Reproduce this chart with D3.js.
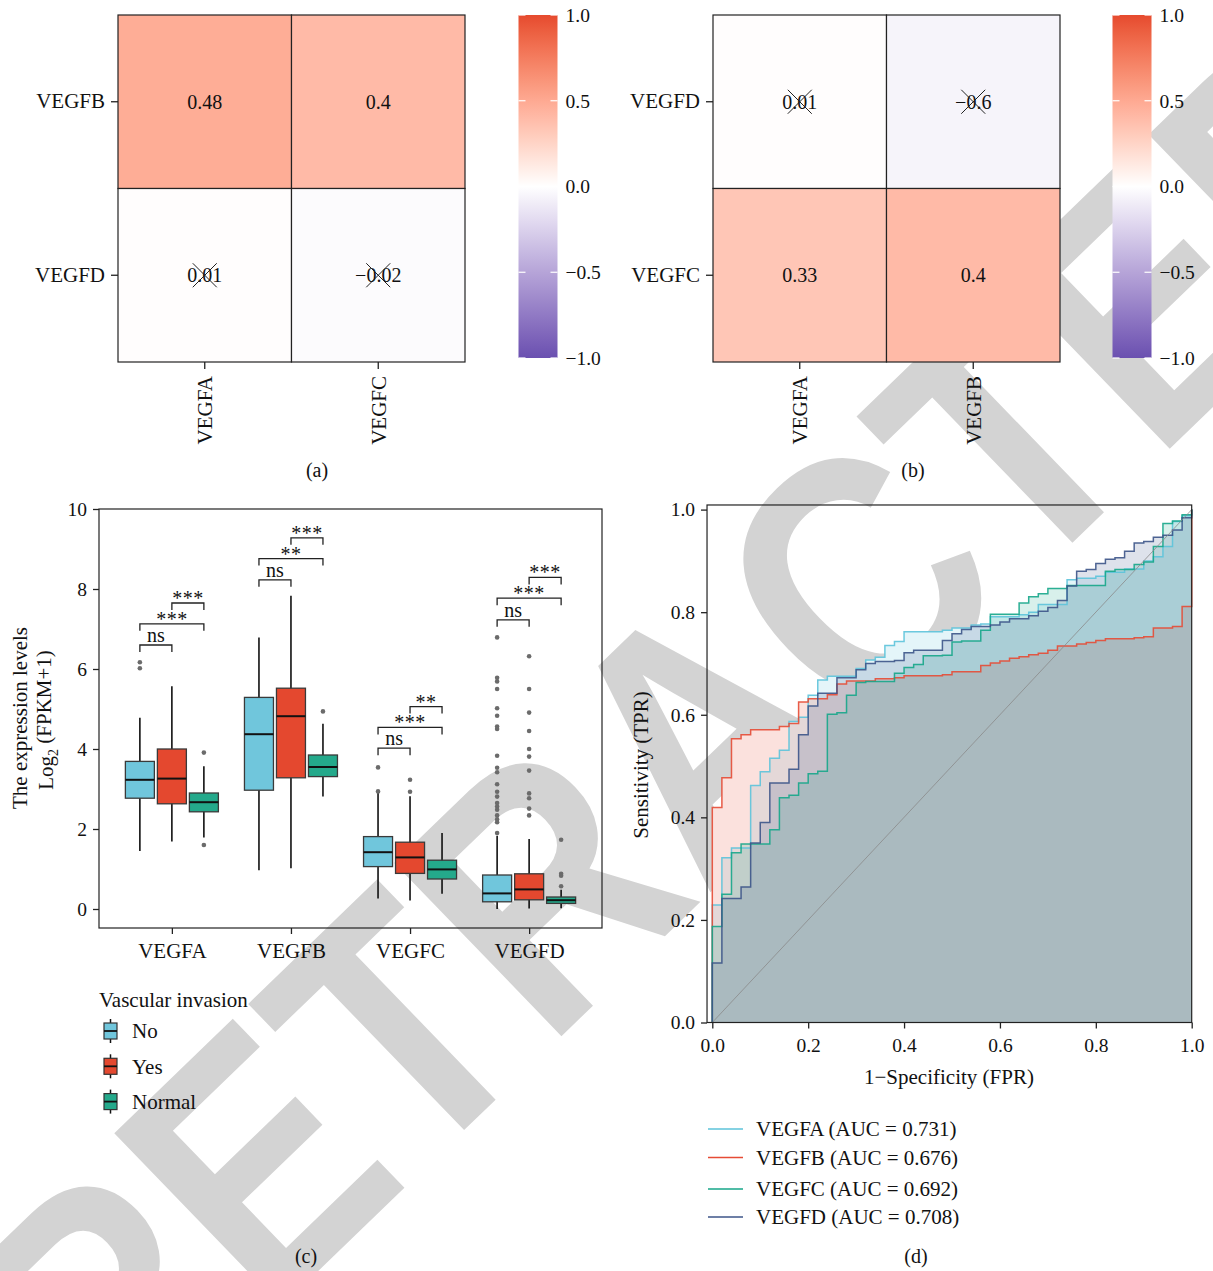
<!DOCTYPE html>
<html><head><meta charset="utf-8">
<script src="https://cdn.jsdelivr.net/npm/d3@7"></script>
<style>
body{margin:0;background:#fff}
svg{display:block}
text{font-family:"Liberation Serif","Times New Roman",serif;fill:#111}
</style>
</head><body>
<svg id="fig" width="1213" height="1271"></svg>
<script>
// ---------------- DATA ----------------
const heatA_rows = ["VEGFB","VEGFD"];
const heatA_cols = ["VEGFA","VEGFC"];
const heatA_values = [[0.48,0.40],[0.01,-0.02]];
const heatA_labels = [["0.48","0.4"],["0.01","\u22120.02"]];
const heatA_crossed = [[false,false],[true,true]];

const heatB_rows = ["VEGFD","VEGFC"];
const heatB_cols = ["VEGFA","VEGFB"];
const heatB_values = [[0.01,-0.06],[0.33,0.40]];
const heatB_labels = [["0.01","\u22120.6"],["0.33","0.4"]];
const heatB_crossed = [[true,true],[false,false]];

const colorbarTicks = [1.0,0.5,0.0,-0.5,-1.0];

const genes = ["VEGFA","VEGFB","VEGFC","VEGFD"];
const groups = ["No","Yes","Normal"];
// [lower whisker, q1, median, q3, upper whisker] per gene
const statsNo     = [[1.45,2.77,3.23,3.69,4.78],[0.97,2.97,4.37,5.29,6.79],[0.26,1.06,1.42,1.81,2.90],[0.00,0.18,0.39,0.85,1.83]];
const statsYes    = [[1.69,2.63,3.26,4.00,5.57],[1.02,3.28,4.82,5.52,7.83],[0.21,0.89,1.29,1.67,2.82],[0.01,0.23,0.49,0.88,1.75]];
const statsNormal = [[1.79,2.43,2.67,2.90,3.57],[2.81,3.31,3.55,3.85,4.63],[0.38,0.75,0.99,1.22,1.90],[0.02,0.14,0.22,0.30,0.48]];
const outliersNo     = [[6.17,6.02],[],[2.94,3.54],[6.79,5.78,5.69,5.50,5.02,4.83,4.56,4.50,3.83,3.53,3.42,3.12,2.93,2.81,2.65,2.56,2.48,2.34,2.24,2.17,1.90]];
const outliersYes    = [[],[],[2.93,3.23],[6.32,5.50,4.91,4.45,4.00,3.81,3.46,2.89,2.77,2.51,2.34]];
const outliersNormal = [[3.91,1.60],[4.94],[],[1.73,0.88,0.83,0.57]];
const sigPairs  = [[0,1],[0,2],[1,2]];
const sigLabels = [["ns","***","***"],["ns","**","***"],["ns","***","**"],["ns","***","***"]];
const sigLevels = [[6.60,7.13,7.65],[8.23,8.76,9.28],[4.02,4.54,5.06],[7.23,7.77,8.29]];
const boxYTicks = [0,2,4,6,8,10];

const rocNames = ["VEGFA (AUC = 0.731)","VEGFB (AUC = 0.676)","VEGFC (AUC = 0.692)","VEGFD (AUC = 0.708)"];
// [FPR, TPR] breakpoints of each step curve
const rocVEGFA = [[0,0.229],[0.02,0.321],[0.04,0.340],[0.08,0.462],[0.10,0.489],[0.12,0.515],[0.14,0.531],[0.16,0.587],[0.18,0.595],[0.20,0.638],[0.22,0.668],[0.24,0.675],[0.30,0.690],[0.32,0.707],[0.34,0.712],[0.36,0.735],[0.38,0.743],[0.40,0.762],[0.48,0.765],[0.50,0.769],[0.54,0.775],[0.56,0.777],[0.58,0.791],[0.64,0.795],[0.66,0.800],[0.68,0.815],[0.74,0.863],[0.76,0.866],[0.80,0.870],[0.82,0.878],[0.86,0.884],[0.90,0.900],[0.92,0.908],[0.94,0.928],[0.96,0.977],[0.98,0.988]];
const rocVEGFB = [[0,0.419],[0.02,0.477],[0.04,0.553],[0.06,0.561],[0.08,0.571],[0.14,0.577],[0.16,0.583],[0.18,0.625],[0.20,0.631],[0.24,0.639],[0.26,0.660],[0.28,0.666],[0.34,0.670],[0.38,0.672],[0.40,0.676],[0.48,0.678],[0.50,0.684],[0.56,0.696],[0.58,0.701],[0.60,0.705],[0.62,0.710],[0.64,0.713],[0.66,0.717],[0.68,0.720],[0.70,0.726],[0.72,0.734],[0.76,0.738],[0.78,0.741],[0.80,0.745],[0.82,0.748],[0.88,0.750],[0.90,0.752],[0.92,0.769],[0.96,0.772],[0.98,0.811]];
const rocVEGFC = [[0,0.187],[0.02,0.250],[0.04,0.331],[0.06,0.348],[0.12,0.376],[0.14,0.438],[0.16,0.443],[0.18,0.467],[0.20,0.485],[0.22,0.490],[0.24,0.601],[0.26,0.604],[0.28,0.638],[0.30,0.663],[0.32,0.665],[0.38,0.681],[0.40,0.692],[0.42,0.698],[0.44,0.715],[0.48,0.716],[0.50,0.742],[0.52,0.744],[0.56,0.765],[0.58,0.796],[0.64,0.818],[0.66,0.830],[0.68,0.836],[0.70,0.846],[0.74,0.852],[0.82,0.880],[0.84,0.883],[0.88,0.893],[0.90,0.898],[0.92,0.928],[0.94,0.973],[0.96,0.978],[0.98,0.990]];
const rocVEGFD = [[0,0.116],[0.02,0.242],[0.06,0.264],[0.08,0.350],[0.10,0.390],[0.12,0.467],[0.16,0.494],[0.18,0.561],[0.20,0.617],[0.22,0.642],[0.26,0.672],[0.30,0.688],[0.32,0.700],[0.34,0.704],[0.38,0.706],[0.40,0.721],[0.42,0.726],[0.48,0.745],[0.50,0.758],[0.52,0.766],[0.54,0.772],[0.58,0.775],[0.60,0.781],[0.62,0.787],[0.66,0.793],[0.68,0.802],[0.70,0.809],[0.72,0.823],[0.74,0.851],[0.76,0.880],[0.78,0.883],[0.80,0.895],[0.82,0.903],[0.84,0.906],[0.86,0.919],[0.88,0.935],[0.90,0.938],[0.92,0.946],[0.94,0.950],[0.96,0.960],[0.98,0.984]];
const rocTicks = [0,0.2,0.4,0.6,0.8,1.0];
const watermarkText = "RETRACTED";

// ---------------- STYLE ----------------
const svg = d3.select("#fig");
const FS = 21;      // word labels
const FN = 19.5;    // numeric labels
const boxColors = ["#70C6DC","#E4482F","#24A98B"];
const rocColors = ["#5CC3DA","#E64B35","#16A689","#3C5488"];
const posColor = "#E64A2E", negColor = "#6A50B0";
const corrColor = v => v >= 0 ? d3.interpolateLab("#ffffff", posColor)(v) : d3.interpolateLab("#ffffff", negColor)(-v);
function styleAxis(a, fs) {
  a.select(".domain").remove();
  a.selectAll("line").attr("stroke", "#222").attr("stroke-width", 1.3);
  a.selectAll("text").style("font-size", fs + "px").style("font-family", '"Liberation Serif",serif').attr("fill", "#111");
}

// ---------------- WATERMARK (behind everything) ----------------
svg.append("text").attr("transform", "translate(697,731) rotate(-44) scale(0.87,1)")
  .attr("text-anchor", "middle").attr("dy", "0.358em")
  .style("font-family", '"Liberation Sans",Arial,sans-serif').style("font-weight", "bold").style("font-size", "350px")
  .style("fill", "#d3d3d3").text(watermarkText);

// ---------------- HEATMAPS ----------------
function heatmap(id, x0, x1, y0, y1, rows, cols, values, labels, crossed, cbx, panelLabel, plx) {
  const g = svg.append("g");
  const xs = d3.scaleBand().domain(cols).range([x0, x1]);
  const ys = d3.scaleBand().domain(rows).range([y0, y1]);
  rows.forEach((r, i) => cols.forEach((c, j) => {
    g.append("rect").attr("x", xs(c)).attr("y", ys(r)).attr("width", xs.bandwidth()).attr("height", ys.bandwidth())
      .attr("fill", corrColor(values[i][j])).attr("stroke", "#222").attr("stroke-width", 1.2);
    const cx = xs(c) + xs.bandwidth()/2, cy = ys(r) + ys.bandwidth()/2;
    g.append("text").attr("x", cx).attr("y", cy).attr("dy", "0.35em").attr("text-anchor", "middle")
      .style("font-size", "20px").text(labels[i][j]);
    if (crossed[i][j]) {
      g.append("line").attr("x1", cx-12).attr("y1", cy-12).attr("x2", cx+12).attr("y2", cy+12).attr("stroke", "#222").attr("stroke-width", 1);
      g.append("line").attr("x1", cx-12).attr("y1", cy+12).attr("x2", cx+12).attr("y2", cy-12).attr("stroke", "#222").attr("stroke-width", 1);
    }
  }));
  const ay = g.append("g").attr("transform", `translate(${x0},0)`).call(d3.axisLeft(ys).tickSize(7).tickPadding(6));
  const ax = g.append("g").attr("transform", `translate(0,${y1})`).call(d3.axisBottom(xs).tickSize(7).tickPadding(6));
  styleAxis(ax, FS); styleAxis(ay, FS);
  ax.selectAll("text").attr("transform", "rotate(-90)").attr("text-anchor", "end").attr("x", -14).attr("y", 0).attr("dy", "0.35em");
  const grad = svg.append("defs").append("linearGradient").attr("id", id).attr("x1", 0).attr("x2", 0).attr("y1", 0).attr("y2", 1);
  d3.range(0, 1.0001, 0.05).forEach(t => grad.append("stop").attr("offset", t).attr("stop-color", corrColor(1 - 2*t)));
  const cbs = d3.scaleLinear().domain([1, -1]).range([15, 358]);
  g.append("rect").attr("x", cbx).attr("y", cbs(1)).attr("width", 39).attr("height", cbs(-1) - cbs(1)).attr("fill", `url(#${id})`);
  colorbarTicks.forEach(t => {
    [[cbx, cbx+7], [cbx+32, cbx+39]].forEach(p => g.append("line").attr("x1", p[0]).attr("x2", p[1]).attr("y1", cbs(t)).attr("y2", cbs(t)).attr("stroke", "#fff").attr("stroke-width", 1.2));
    g.append("text").attr("x", cbx + 47).attr("y", cbs(t)).attr("dy", "0.35em").style("font-size", FN + "px")
      .text(d3.format(".1f")(t).replace("-", "\u2212"));
  });
  g.append("text").attr("x", plx).attr("y", 470).attr("dy", "0.35em").attr("text-anchor", "middle").style("font-size", "20px").text(panelLabel);
}
heatmap("cbA", 118, 465, 15, 362, heatA_rows, heatA_cols, heatA_values, heatA_labels, heatA_crossed, 518.5, "(a)", 317);
heatmap("cbB", 713, 1060, 15, 362, heatB_rows, heatB_cols, heatB_values, heatB_labels, heatB_crossed, 1112.5, "(b)", 913);

// ---------------- BOXPLOT ----------------
(function () {
  const L = 99, R = 602, T = 509, B = 928;
  const y = d3.scaleLinear().domain([-0.475, 10]).range([B, T]);
  const x = d3.scalePoint().domain(genes).range([L, R]).padding(0.612);
  const off = d3.scalePoint().domain(groups).range([-32, 32]);
  const bw = 29;
  const g = svg.append("g");
  const allStats = [statsNo, statsYes, statsNormal];
  const allOut = [outliersNo, outliersYes, outliersNormal];
  genes.forEach((gene, gi) => {
    groups.forEach((grp, k) => {
      const s = allStats[k][gi];
      const cx = x(gene) + off(grp);
      g.append("line").attr("x1", cx).attr("x2", cx).attr("y1", y(s[0])).attr("y2", y(s[4])).attr("stroke", "#111").attr("stroke-width", 1.6);
      g.append("rect").attr("x", cx - bw/2).attr("y", y(s[3])).attr("width", bw).attr("height", y(s[1]) - y(s[3]))
        .attr("fill", boxColors[k]).attr("stroke", "#3a3a3a").attr("stroke-width", 1.3);
      g.append("line").attr("x1", cx - bw/2).attr("x2", cx + bw/2).attr("y1", y(s[2])).attr("y2", y(s[2])).attr("stroke", "#111").attr("stroke-width", 2);
      allOut[k][gi].forEach(v => g.append("circle").attr("cx", cx).attr("cy", y(v)).attr("r", 2.3).attr("fill", "#6b6b6b"));
    });
    sigPairs.forEach((p, j) => {
      const xa = x(gene) + off(groups[p[0]]), xb = x(gene) + off(groups[p[1]]);
      const yy = y(sigLevels[gi][j]);
      g.append("path").attr("d", `M${xa},${yy+7}V${yy}H${xb}V${yy+7}`).attr("fill", "none").attr("stroke", "#222").attr("stroke-width", 1.3);
      const lab = sigLabels[gi][j];
      g.append("text").attr("x", (xa + xb)/2).attr("y", lab === "ns" ? yy - 3 : yy + 2).attr("text-anchor", "middle")
        .style("font-size", "20px").style("letter-spacing", lab === "ns" ? "0px" : "0.5px")
        .attr("fill", "#222").text(lab);
    });
  });
  g.append("rect").attr("x", L).attr("y", T).attr("width", R - L).attr("height", B - T).attr("fill", "none").attr("stroke", "#222").attr("stroke-width", 1.2);
  const ay = g.append("g").attr("transform", `translate(${L},0)`).call(d3.axisLeft(y).tickValues(boxYTicks).tickSize(6).tickPadding(6));
  const ax = g.append("g").attr("transform", `translate(0,${B})`).call(d3.axisBottom(x).tickSize(6).tickPadding(9));
  styleAxis(ax, FS); styleAxis(ay, FN);
  g.append("text").attr("transform", "translate(20,718) rotate(-90)").attr("dy", "0.35em").attr("text-anchor", "middle").style("font-size", FS + "px").text("The expression levels");
  const t2 = g.append("text").attr("transform", "translate(46,720) rotate(-90)").attr("dy", "0.35em").attr("text-anchor", "middle").style("font-size", FS + "px");
  t2.append("tspan").text("Log");
  t2.append("tspan").attr("dy", "0.3em").style("font-size", "14px").text("2");
  t2.append("tspan").attr("dy", "-0.3em").text(" (FPKM+1)");
  g.append("text").attr("x", 99).attr("y", 1007).style("font-size", FS + "px").text("Vascular invasion");
  groups.forEach((grp, k) => {
    const cy = 1031 + k * 35.3;
    g.append("line").attr("x1", 110.5).attr("x2", 110.5).attr("y1", cy - 12).attr("y2", cy + 12).attr("stroke", "#111").attr("stroke-width", 1.5);
    g.append("rect").attr("x", 104).attr("y", cy - 8).attr("width", 13).attr("height", 16).attr("fill", boxColors[k]).attr("stroke", "#333").attr("stroke-width", 1.2);
    g.append("line").attr("x1", 104).attr("x2", 117).attr("y1", cy).attr("y2", cy).attr("stroke", "#111").attr("stroke-width", 1.8);
    g.append("text").attr("x", 132).attr("y", cy).attr("dy", "0.35em").style("font-size", FS + "px").text(grp);
  });
  g.append("text").attr("x", 306).attr("y", 1256).attr("dy", "0.35em").attr("text-anchor", "middle").style("font-size", "20px").text("(c)");
})();

// ---------------- ROC ----------------
(function () {
  const x = d3.scaleLinear().domain([0, 1]).range([712.3, 1191.7]);
  const y = d3.scaleLinear().domain([0, 1]).range([1022.5, 509.6]);
  const g = svg.append("g");
  const curves = [rocVEGFA, rocVEGFB, rocVEGFC, rocVEGFD].map(c => [[0, 0]].concat(c, [[1, 1]]));
  const area = d3.area().curve(d3.curveStepAfter).x(d => x(d[0])).y0(y(0)).y1(d => y(d[1]));
  const line = d3.line().curve(d3.curveStepAfter).x(d => x(d[0])).y(d => y(d[1]));
  // opaque white underlay so the watermark does not show through the filled areas
  curves.forEach(c => g.append("path").attr("d", area(c)).attr("fill", "#fff"));
  curves.forEach((c, i) => g.append("path").attr("d", area(c)).attr("fill", rocColors[i]).attr("fill-opacity", 0.17));
  curves.forEach((c, i) => g.append("path").attr("d", line(c)).attr("fill", "none").attr("stroke", rocColors[i]).attr("stroke-width", 1.5).attr("stroke-opacity", 0.9));
  g.append("line").attr("x1", x(0)).attr("y1", y(0)).attr("x2", x(1)).attr("y2", y(1)).attr("stroke", "#8a8a8a").attr("stroke-width", 0.8);
  g.append("rect").attr("x", x(-0.011)).attr("y", y(1.009)).attr("width", x(1) - x(-0.011)).attr("height", y(0) - y(1.009))
    .attr("fill", "none").attr("stroke", "#222").attr("stroke-width", 1.2);
  const ay = g.append("g").attr("transform", `translate(${x(-0.011)},0)`).call(d3.axisLeft(y).tickValues(rocTicks).tickFormat(d3.format(".1f")).tickSize(6).tickPadding(6));
  const ax = g.append("g").attr("transform", `translate(0,${y(0)})`).call(d3.axisBottom(x).tickValues(rocTicks).tickFormat(d3.format(".1f")).tickSize(6).tickPadding(10));
  styleAxis(ax, FN); styleAxis(ay, FN);
  g.append("text").attr("x", 949).attr("y", 1077).attr("dy", "0.35em").attr("text-anchor", "middle").style("font-size", FS + "px").text("1\u2212Specificity (FPR)");
  g.append("text").attr("transform", "translate(641,765) rotate(-90)").attr("dy", "0.35em").attr("text-anchor", "middle").style("font-size", FS + "px").text("Sensitivity (TPR)");
  const ly = [1129, 1157.5, 1189, 1217];
  rocNames.forEach((n, i) => {
    g.append("line").attr("x1", 708).attr("x2", 743).attr("y1", ly[i]).attr("y2", ly[i]).attr("stroke", rocColors[i]).attr("stroke-width", 1.6);
    g.append("text").attr("x", 756).attr("y", ly[i]).attr("dy", "0.35em").style("font-size", FS + "px").text(n);
  });
  g.append("text").attr("x", 916).attr("y", 1256).attr("dy", "0.35em").attr("text-anchor", "middle").style("font-size", "20px").text("(d)");
})();
</script>
</body></html>
